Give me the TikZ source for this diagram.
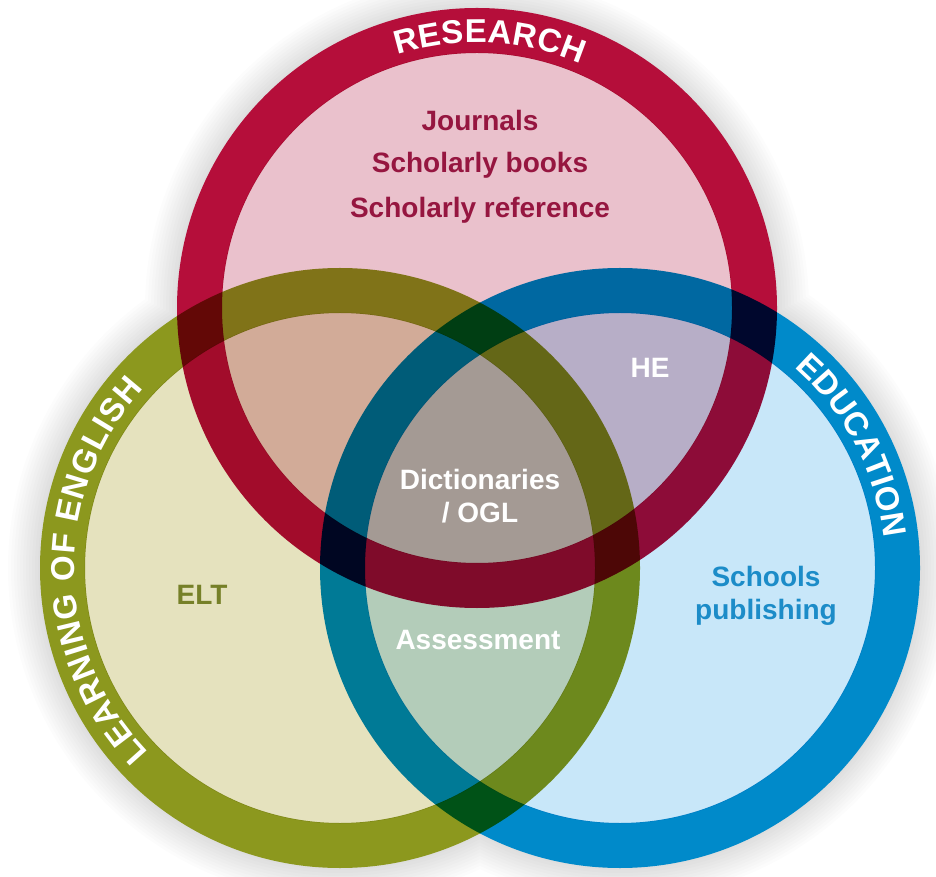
\documentclass[tikz,border=0pt]{standalone}
\usepackage{fontspec}
\setmainfont{Liberation Sans}
\usetikzlibrary{decorations.text}
\definecolor{rring}{RGB}{181,14,58}
\definecolor{rfill}{RGB}{234,193,204}
\definecolor{gring}{RGB}{140,152,30}
\definecolor{gfill}{RGB}{229,226,190}
\definecolor{bring}{RGB}{0,138,202}
\definecolor{bfill}{RGB}{200,231,249}
\definecolor{rtext}{RGB}{150,22,64}
\definecolor{gtext}{RGB}{118,128,40}
\definecolor{btext}{RGB}{28,140,200}
\newcommand\ringfnt{\fontsize{33}{33}\selectfont\bfseries}
\begin{document}
\begin{tikzpicture}[x=1pt,y=1pt,
  lab/.style={font=\fontsize{28}{33}\selectfont\bfseries, align=center, inner sep=0pt},
  ringline/.style={line width=45pt},
  ringtext/.style={decorate, decoration={text along path, text align=fit to path, text color=white}}]
\useasboundingbox (0,0) rectangle (936,876);
\fill[white] (0,0) rectangle (936,876);
\coordinate (R) at (477,568);
\coordinate (G) at (340,308);
\coordinate (B) at (620,308);
% soft shadow
\foreach \k in {32,29,...,2}{
  \fill[black, opacity=0.012] (R) circle (300+\k) (G) circle (300+\k) (B) circle (300+\k);
}
\begin{scope}[blend group=multiply]
  \fill[rfill] (R) circle (255.5);
  \fill[gfill] (G) circle (255.5);
  \fill[bfill] (B) circle (255.5);
  \draw[rring, ringline] (R) circle (277.5);
  \draw[gring, ringline] (G) circle (277.5);
  \draw[bring, ringline] (B) circle (277.5);
\end{scope}
% ring titles
\path[ringtext, decoration={text={|\ringfnt|RESEARCH}}]
  ([shift={(107.5:265.5)}]R) arc[start angle=107.5, end angle=67, radius=265.5];
\path[ringtext, decoration={text={|\ringfnt|LEARNING OF ENGLISH}}]
  ([shift={(224:265.5)}]G) arc[start angle=224, end angle=137.5, radius=265.5];
\path[ringtext, decoration={text={|\ringfnt|EDUCATION}}]
  ([shift={(49:265.5)}]B) arc[start angle=49, end angle=6.5, radius=265.5];
% labels
\node[lab, text=rtext] (jour) at (480,756) {Journals};
\node[lab, text=rtext] (books) at (480,711) {Scholarly books};
\node[lab, text=rtext] (ref) at (480,666) {Scholarly reference};
\node[lab, text=white] (he) at (650,508) {HE};
\node[lab, text=white] (dict) at (480,380) {Dictionaries\\/ OGL};
\node[lab, text=gtext] (elt) at (202,281) {ELT};
\node[lab, text=white] (assess) at (478,236) {Assessment};
\node[lab, text=btext] (school) at (766,280) {Schools\\publishing};
\end{tikzpicture}
\end{document}
